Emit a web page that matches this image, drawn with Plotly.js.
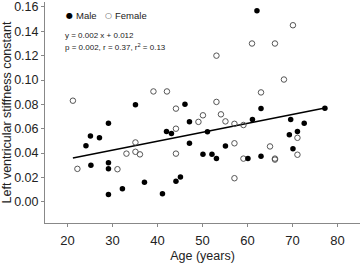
<!DOCTYPE html>
<html>
<head>
<meta charset="utf-8">
<script src="https://cdn.plot.ly/plotly-3.0.1.min.js"></script>
<style>html,body{margin:0;padding:0;background:#fff}#chart{width:360px;height:263px}</style>
</head>
<body>
<div id="chart"></div>
<script>
// Male (filled circles)
const maleAge = [24.1,25.1,25.2,27.1,29.1,29.1,29.1,29.1,32.2,35.1,37.1,41.1,42.0,43.1,44.1,45.1,46.1,47.1,47.1,50.1,51.1,52.1,53.1,55.1,60.1,61.1,62.1,63.0,63.0,69.3,69.6,70.1,71.1,72.6,77.2];
const maleStiff = [0.046,0.054,0.030,0.0525,0.0645,0.032,0.027,0.006,0.0106,0.0797,0.016,0.0065,0.0577,0.056,0.0169,0.0204,0.080,0.0656,0.048,0.0389,0.0574,0.0389,0.0354,0.0457,0.0356,0.0675,0.157,0.0765,0.0373,0.055,0.0675,0.0435,0.0577,0.0645,0.0767];
// Female (open circles)
const femaleAge = [21.2,22.2,31.1,33.1,35.1,35.1,36.1,39.1,42.1,44.1,44.1,44.1,49.1,50.1,53.1,53.1,54.1,55.1,57.1,57.1,57.1,59.1,59.1,61.0,63.0,65.0,66.1,66.1,66.1,68.1,70.1,71.1,71.1];
const femaleStiff = [0.083,0.027,0.0267,0.0395,0.0487,0.041,0.0389,0.0906,0.0906,0.0765,0.060,0.0395,0.0656,0.071,0.120,0.082,0.0718,0.066,0.064,0.048,0.0193,0.063,0.0354,0.130,0.0898,0.0454,0.130,0.0354,0.0346,0.1004,0.145,0.0525,0.0386];
// Regression line end points
const fitAge = [21.2, 77.2];
const fitStiff = [0.036, 0.077];
// Axis ticks
const xTicks = [20,30,40,50,60,70,80];
const yTicks = [0,0.02,0.04,0.06,0.08,0.10,0.12,0.14,0.16];
const yTickText = ["0.00","0.02","0.04","0.06","0.08","0.10","0.12","0.14","0.16"];

const font = "Liberation Sans, Arial, sans-serif";
const txt = "#222";

const traces = [
  {x: fitAge, y: fitStiff, mode: "lines", line: {color: "#000", width: 1.5}, name: "fit", hoverinfo: "skip"},
  {x: femaleAge, y: femaleStiff, mode: "markers", name: "Female", cliponaxis: false,
   marker: {symbol: "circle-open", size: 5.5, color: "#555", line: {width: 1, color: "#555"}}},
  {x: maleAge, y: maleStiff, mode: "markers", name: "Male", cliponaxis: false,
   marker: {symbol: "circle", size: 5.5, color: "#000"}}
];

const H = 221; // plot height in px
const layout = {
  width: 360, height: 263,
  margin: {l: 45, r: 0, t: 2, b: 40},
  paper_bgcolor: "#fff", plot_bgcolor: "#fff",
  showlegend: false,
  font: {family: font, size: 12.5, color: txt},
  xaxis: {
    range: [15, 85], tickvals: xTicks, ticks: "outside", ticklen: 3, tickcolor: "#888",
    showline: true, linecolor: "#888", linewidth: 1, showgrid: false, zeroline: false,
    tickfont: {size: 13, color: txt}, ticklabelstandoff: 2, ticklabeloverflow: "allow",
    title: {text: "Age (years)", font: {size: 12.5, color: txt}, standoff: 6}
  },
  yaxis: {
    range: [-0.0175, 0.1641], tickvals: yTicks, ticktext: yTickText, ticks: "outside", ticklen: 3, tickcolor: "#888",
    showline: true, linecolor: "#888", linewidth: 1, showgrid: false, zeroline: false,
    tickfont: {size: 12.5, color: txt}, ticklabeloverflow: "allow",
    title: {text: "Left ventricular stiffness constant", font: {size: 12.5, color: txt}, standoff: 3}
  },
  annotations: [
    {xref: "paper", yref: "paper", x: (69-45)/315, y: 1-(15.7-2)/H, xanchor: "center", yanchor: "middle", text: "●", showarrow: false, font: {size: 8, color: "#000", family: "DejaVu Sans"}},
    {xref: "paper", yref: "paper", x: (73.5-45)/315, y: 1-(15.7-2)/H, xanchor: "left", yanchor: "middle", text: "Male", showarrow: false, font: {size: 9.5, color: txt}},
    {xref: "paper", yref: "paper", x: (108.7-45)/315, y: 1-(15.7-2)/H, xanchor: "center", yanchor: "middle", text: "○", showarrow: false, font: {size: 8, color: "#555", family: "DejaVu Sans"}},
    {xref: "paper", yref: "paper", x: (112.5-45)/315, y: 1-(15.7-2)/H, xanchor: "left", yanchor: "middle", text: "Female", showarrow: false, font: {size: 9.5, color: txt}},
    {xref: "paper", yref: "paper", x: (63-45)/315, y: 1-(35-2)/H, xanchor: "left", yanchor: "middle", text: "y = 0.002 x + 0.012", showarrow: false, font: {size: 8, color: txt}},
    {xref: "paper", yref: "paper", x: (63-45)/315, y: 1-(46.7-2)/H, xanchor: "left", yanchor: "middle", text: "p = 0.002, r = 0.37, r<sup>2</sup> = 0.13", showarrow: false, font: {size: 8, color: txt}}
  ]
};

Plotly.newPlot("chart", traces, layout, {displayModeBar: false, staticPlot: true});
</script>
</body>
</html>
